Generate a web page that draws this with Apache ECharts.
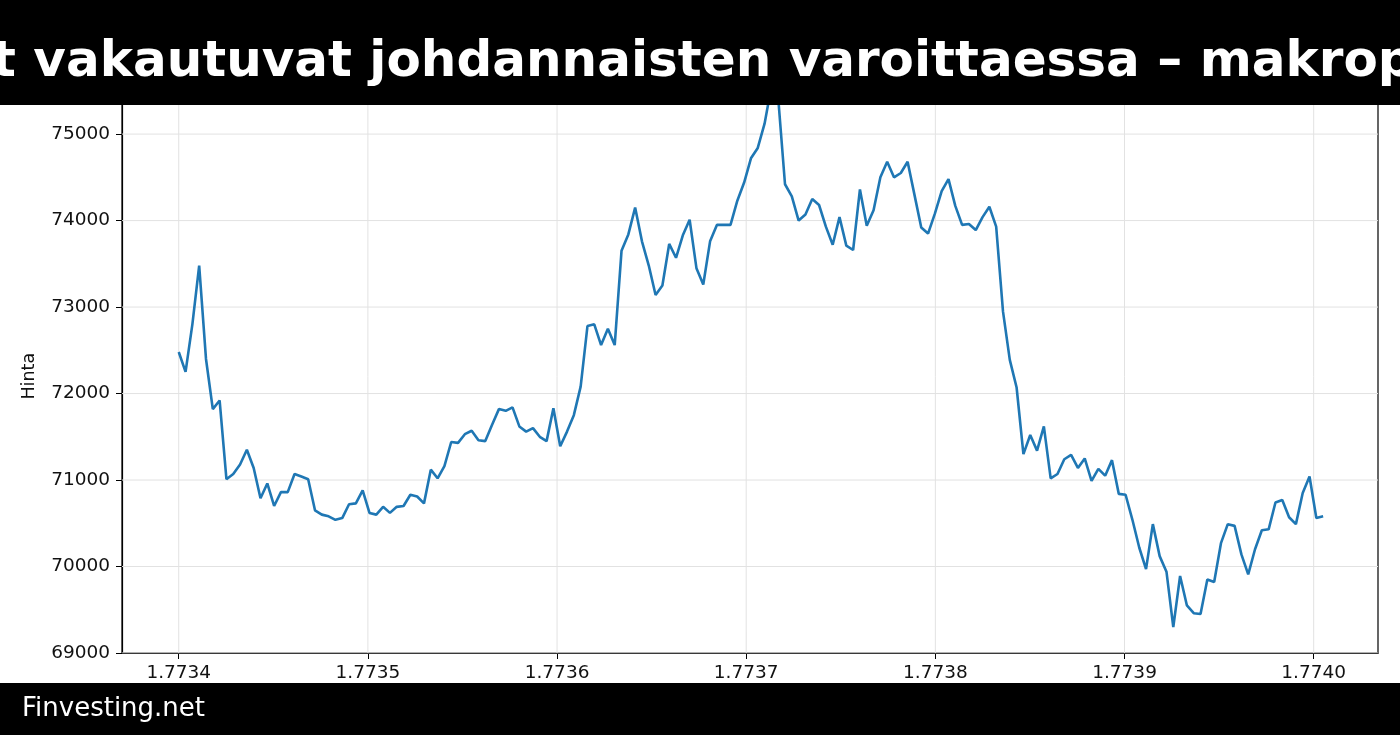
<!DOCTYPE html>
<html><head><meta charset="utf-8">
<script src="https://cdn.jsdelivr.net/npm/echarts@6/dist/echarts.min.js"></script>
<style>html,body{margin:0;padding:0;background:#fff}#c{width:1400px;height:735px}</style>
</head><body><div id="c"></div>
<script>
const prices = [72480,72250,72800,73480,72400,71820,71920,71010,71070,71180,71350,71140,70790,70960,70700,70860,70860,71070,71040,71010,70650,70600,70580,70540,70560,70720,70730,70880,70620,70600,70690,70620,70690,70700,70830,70810,70730,71120,71020,71160,71440,71430,71530,71570,71460,71450,71640,71820,71800,71840,71620,71560,71600,71500,71450,71830,71390,71560,71750,72080,72780,72800,72560,72750,72560,73650,73840,74150,73760,73480,73140,73250,73730,73570,73830,74010,73450,73260,73760,73950,73950,73950,74230,74440,74720,74840,75120,75550,75420,74420,74280,74000,74070,74250,74180,73930,73720,74040,73710,73660,74360,73940,74120,74500,74680,74500,74550,74680,74300,73920,73850,74080,74340,74480,74170,73950,73960,73890,74040,74160,73930,72950,72390,72070,71300,71520,71340,71620,71020,71070,71240,71290,71140,71250,70990,71130,71050,71230,70840,70830,70540,70220,69970,70490,70120,69940,69300,69890,69550,69460,69450,69850,69820,70270,70490,70470,70140,69910,70200,70420,70430,70740,70770,70570,70490,70850,71040,70560,70580];
const xStart = 1.7734, xEnd = 1.774005;
const xTicks = [1.7734,1.7735,1.7736,1.7737,1.7738,1.7739,1.7740];
const yTicks = [69000,70000,71000,72000,73000,74000,75000];
const data = prices.map((v,i)=>[xStart+i*(xEnd-xStart)/(prices.length-1), v]);
const chart = echarts.init(document.getElementById('c'));
const F = 'DejaVu Sans';
chart.setOption({
  animation:false,
  grid:{left:122,right:22,top:99.5,bottom:82,show:true,borderColor:'#000',borderWidth:1.2,containLabel:false},
  xAxis:{type:'value',min:1.77337,max:1.774034,
    axisLine:{show:true,lineStyle:{color:'#000',width:1.2}},
    axisTick:{show:true,customValues:xTicks,length:6,lineStyle:{color:'#000'}},
    axisLabel:{customValues:xTicks,formatter:v=>v.toFixed(4),fontFamily:F,fontSize:18.5,color:'#111',margin:11},
    splitLine:{show:false}},
  yAxis:{type:'value',min:69000,max:75400,name:'Hinta',nameLocation:'middle',nameGap:84,
    nameTextStyle:{fontFamily:F,fontSize:17.5,color:'#111'},
    axisLine:{show:true,lineStyle:{color:'#000',width:1.2}},
    axisTick:{show:true,customValues:yTicks,length:6,lineStyle:{color:'#000'}},
    axisLabel:{customValues:yTicks,formatter:v=>String(v),fontFamily:F,fontSize:18.5,color:'#111',margin:12},
    splitLine:{show:false}},
  series:[
    {type:'line',data:data,showSymbol:false,lineStyle:{color:'#1f77b4',width:2.6},z:3},
    ...xTicks.map(x=>({type:'line',data:[[x,69000],[x,75400]],showSymbol:false,silent:true,lineStyle:{color:'#e2e2e2',width:1},z:1})),
    ...yTicks.map(y=>({type:'line',data:[[1.77337,y],[1.774034,y]],showSymbol:false,silent:true,lineStyle:{color:'#e2e2e2',width:1},z:1}))
  ],
  graphic:[
    {type:'rect',shape:{x:0,y:0,width:1400,height:105},style:{fill:'#000'},z:10},
    {type:'text',x:-8,y:63,style:{text:'t vakautuvat johdannaisten varoittaessa – makrop',fill:'#fff',font:'bold 50px "DejaVu Sans"',textVerticalAlign:'middle'},z:11},
    {type:'rect',shape:{x:0,y:683,width:1400,height:52},style:{fill:'#000'},z:10},
    {type:'text',x:22,y:709,style:{text:'Finvesting.net',fill:'#fff',font:'26px "DejaVu Sans"',textVerticalAlign:'middle'},z:11}
  ]
});
</script></body></html>
